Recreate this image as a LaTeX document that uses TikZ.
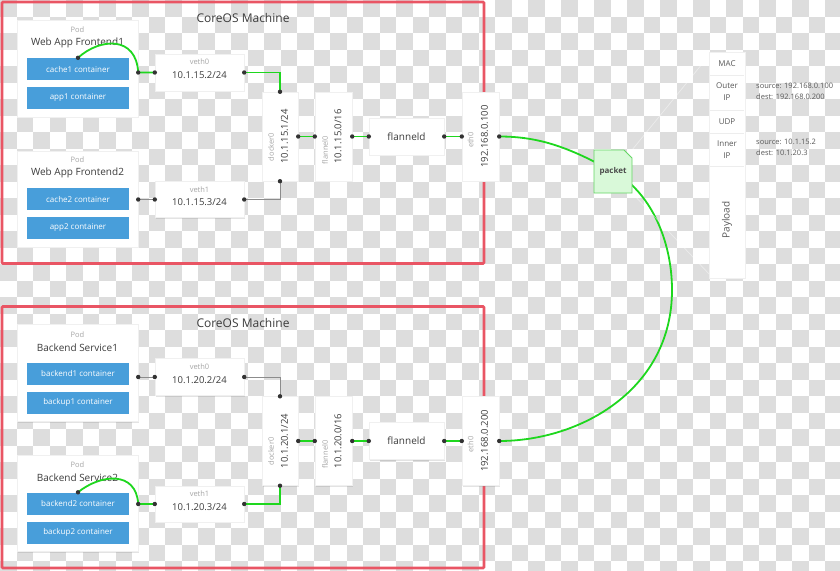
\documentclass[tikz,border=0pt]{standalone}
\usepackage{fontspec}
\setmainfont{Open Sans}
\usetikzlibrary{shadows,calc}
\definecolor{checker}{RGB}{221,221,221}
\definecolor{machred}{RGB}{233,85,100}
\definecolor{cblue}{RGB}{72,158,218}
\definecolor{lgreen}{RGB}{30,215,30}
\definecolor{pfill}{RGB}{217,249,217}
\definecolor{pdraw}{RGB}{100,214,100}
\definecolor{dotc}{RGB}{51,51,51}
\definecolor{txt}{RGB}{60,60,60}

\newcommand\coreos[9]{%
\draw[redbox] (2,2) rectangle (484,263.5);
\node[title] (#1title) at (243,18) {CoreOS Machine};
\node[wbox,minimum width=121pt,minimum height=97pt] (#1pod1) at (77.5,68.5) {};
\node[lbl] (#1pod1l) at (77.5,30) {Pod};
\node[ptitle] (#1pod1t) at (77.5,43) {#2};
\node[cont] (#1c1a) at (78,69) {#3};
\node[cont] (#1c1b) at (78,98) {#4};
\node[wbox,minimum width=121pt,minimum height=96pt] (#1pod2) at (77.5,199) {};
\node[lbl] (#1pod2l) at (77.5,160) {Pod};
\node[ptitle] (#1pod2t) at (77.5,173) {#5};
\node[cont] (#1c2a) at (78,199) {#6};
\node[cont] (#1c2b) at (78,228) {#7};
\node[wbox,minimum width=89pt,minimum height=37pt] (#1veth0) at (199.5,72.5) {};
\node[lbl] (#1veth0l) at (199.5,62) {veth0};
\node[main] (#1veth0m) at (199.5,75.5) {10.1.#8.2/24};
\node[wbox,minimum width=89pt,minimum height=36pt] (#1veth1) at (199.5,199.5) {};
\node[lbl] (#1veth1l) at (199.5,189.5) {veth1};
\node[main] (#1veth1m) at (199.5,202.5) {10.1.#8.3/24};
\node[wbox,minimum width=36pt,minimum height=89pt] (#1docker) at (280,136.5) {};
\node[lbl,rotate=90] (#1dockerl) at (271,147) {docker0};
\node[main,rotate=90] (#1dockerm) at (284.5,136.5) {10.1.#8.1/24};
\node[wbox,minimum width=37pt,minimum height=89pt] (#1flannel) at (333.5,136.5) {};
\node[lbl,rotate=90] (#1flannell) at (325,150) {flannel0};
\node[main,rotate=90] (#1flannelm) at (338,136.5) {10.1.#8.0/16};
\node[wbox,minimum width=75pt,minimum height=37pt] (#1flanneld) at (406.5,136.5) {};
\node[main,font=\fontsize{10}{12}\selectfont] (#1flanneldm) at (406.5,136.5) {flanneld};
\node[wbox,minimum width=37pt,minimum height=89pt] (#1eth) at (480.5,136.5) {};
\node[lbl,rotate=90] (#1ethl) at (470.5,140) {eth0};
\node[main,rotate=90] (#1ethm) at (484.5,136.5) {192.168.0.#9};
}

\begin{document}
\begin{tikzpicture}[x=1pt,y=-1pt,
  redbox/.style={draw=machred,line width=2.6pt,rounded corners=1pt},
  wbox/.style={fill=white,draw=black!6,line width=0.4pt,inner sep=0pt,
    drop shadow={shadow xshift=0.8pt,shadow yshift=-1pt,opacity=0.22}},
  cont/.style={fill=cblue,text=white,minimum width=102pt,minimum height=22pt,
    inner sep=0pt,font=\fontsize{8}{9}\selectfont},
  title/.style={text=txt,inner sep=0pt,font=\fontsize{12}{14}\selectfont},
  ptitle/.style={text=txt,inner sep=0pt,font=\fontsize{10}{12}\selectfont},
  lbl/.style={text=black!35,inner sep=0pt,font=\fontsize{7.5}{9}\selectfont},
  main/.style={text=txt,inner sep=0pt,font=\fontsize{9.5}{11}\selectfont},
  gline/.style={draw=lgreen,line width=1.8pt},
  grline/.style={draw=black!45,line width=0.8pt},
  hdr/.style={text=black!65,inner sep=0pt,align=center,font=\fontsize{8}{12}\selectfont},
  ann/.style={text=black!65,inner sep=0pt,align=left,anchor=west,font=\fontsize{7.5}{11}\selectfont},
  pkt/.style={text=black!70,inner sep=0pt,font=\bfseries\fontsize{8}{10}\selectfont},
  dot/.style={fill=dotc}]
\useasboundingbox (0,0) rectangle (840,570);
\fill[white] (0,0) rectangle (840,570);
\begin{scope}
\clip (0,0) rectangle (840,570);
\foreach \j in {0,2,...,34}{\foreach \i in {0,2,...,50}{\fill[checker] (\i*16.5,\j*16.5) rectangle +(16.5,16.5);}}
\foreach \j in {1,3,...,33}{\foreach \i in {1,3,...,49}{\fill[checker] (\i*16.5,\j*16.5) rectangle +(16.5,16.5);}}
\end{scope}

% top machine
\coreos{t}{Web App Frontend1}{cache1 container}{app1 container}{Web App Frontend2}{cache2 container}{app2 container}{15}{100}
% bottom machine
\begin{scope}[shift={(0,304.5)}]
\coreos{b}{Backend Service1}{backend1 container}{backup1 container}{Backend Service2}{backend2 container}{backup2 container}{20}{200}
\end{scope}

% top connectors
\coordinate (tp1dot) at (tpod1.east |- tveth0.west);
\coordinate (tp2dot) at (tpod2.east |- tveth1.west);
\draw[gline] (tc1a.north) .. controls +(22,-20) and +(-2,-37) .. (tp1dot) -- (tveth0.west);
\draw[gline] (tveth0.east) -| (tdocker.north);
\draw[gline] (tdocker.east) -- (tflannel.west);
\draw[gline] (tflannel.east) -- (tflanneld.west);
\draw[gline] (tflanneld.east) -- (teth.west);
\draw[grline] (tp2dot) -- (tveth1.west);
\draw[grline] (tveth1.east) -| (tdocker.south);

% bottom connectors
\coordinate (bp1dot) at (bpod1.east |- bveth0.west);
\coordinate (bp2dot) at (bpod2.east |- bveth1.west);
\draw[grline] (bp1dot) -- (bveth0.west);
\draw[grline] (bveth0.east) -| (bdocker.north);
\draw[gline] (bc2a.north) .. controls +(22,-18) and +(-2,-34) .. (bp2dot) -- (bveth1.west);
\draw[gline] (bveth1.east) -| (bdocker.south);
\draw[gline] (bdocker.east) -- (bflannel.west);
\draw[gline] (bflannel.east) -- (bflanneld.west);
\draw[gline] (bflanneld.east) -- (beth.west);

% packet path
\coordinate (pk) at (613,171.5);
\draw[gline] (teth.east) .. controls +(41,0) and (570,148) .. (pk)
  .. controls (650,191) and (672,240) .. (672,290)
  .. controls (672,390) and (580,441) .. (beth.east);

% faint zoom lines
\draw[white,line width=0.7pt,opacity=0.45] (632,150) -- (711,53);
\draw[white,line width=0.7pt,opacity=0.45] (632,193) -- (711,276);

\draw[fill=pfill,draw=pdraw,line width=0.9pt] (594,150) -- (624,150) -- (632,158) -- (632,193) -- (594,193) -- cycle;
\node[pkt] (packet) at (pk) {packet};

% dots
\foreach \p in {tc1a.north,tp1dot,tveth0.west,tveth0.east,tdocker.north,tdocker.south,tdocker.east,
  tflannel.west,tflannel.east,tflanneld.west,tflanneld.east,teth.west,teth.east,tp2dot,tveth1.west,tveth1.east,
  bp1dot,bveth0.west,bveth0.east,bdocker.north,bdocker.south,bdocker.east,bflannel.west,bflannel.east,
  bflanneld.west,bflanneld.east,beth.west,beth.east,bc2a.north,bp2dot,bveth1.west,bveth1.east}
  {\fill[dot] (\p) circle (2.2);}

% header stack
\node[wbox,minimum width=36pt,minimum height=226pt] (stack) at (727,165) {};
\foreach \yy in {75,110,133,166}{\draw[black!7,line width=0.6pt] (710,\yy) -- (744,\yy);}
\node[hdr] (mac) at (727,63.5) {MAC};
\node[hdr] (outer) at (727,92) {Outer\\IP};
\node[hdr] (udp) at (727,121.5) {UDP};
\node[hdr] (inner) at (727,149.5) {Inner\\IP};
\node[hdr,rotate=90,font=\fontsize{10}{12}\selectfont] (payload) at (727,220) {Payload};
\node[ann] (ann1) at (756,91.5) {source: 192.168.0.100\\dest: 192.168.0.200};
\node[ann] (ann2) at (756,147.5) {source: 10.1.15.2\\dest: 10.1.20.3};
\end{tikzpicture}
\end{document}
